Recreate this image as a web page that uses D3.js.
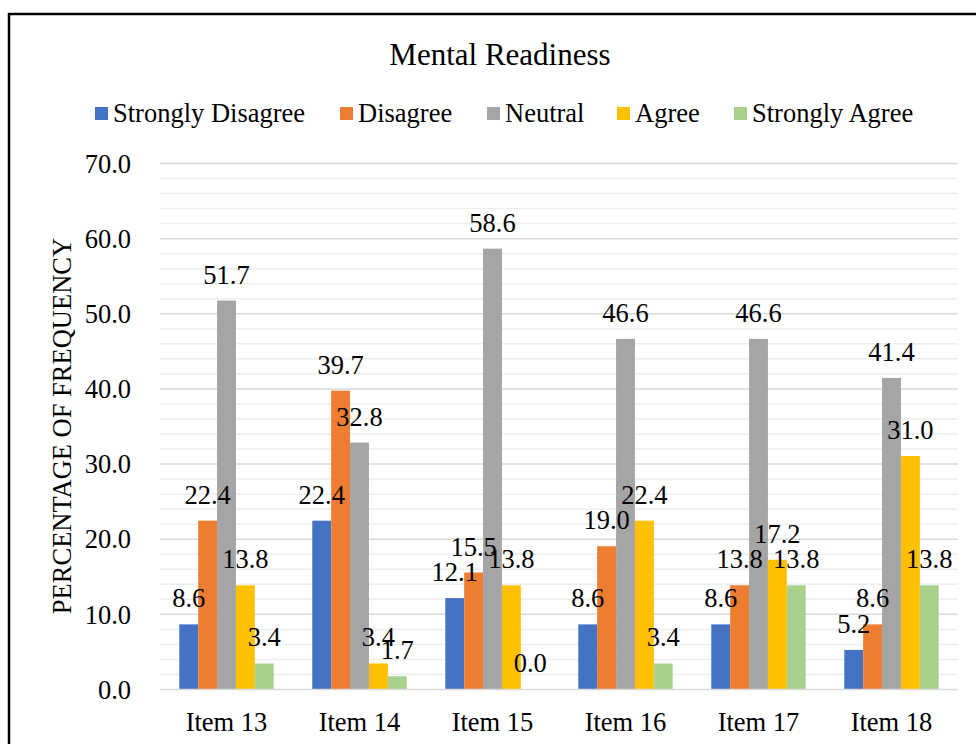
<!DOCTYPE html>
<html>
<head>
<meta charset="utf-8">
<script src="https://cdn.jsdelivr.net/npm/d3@7"></script>
<style>
  html, body { margin: 0; padding: 0; background: #fff; }
  svg { display: block; font-family: "Liberation Serif", "Times New Roman", serif; }
  svg text { font-family: "Liberation Serif", "Times New Roman", serif; }
</style>
</head>
<body>
<svg id="chart" width="976" height="744"></svg>
<script>
const categories = ["Item 13", "Item 14", "Item 15", "Item 16", "Item 17", "Item 18"];
const seriesNames = ["Strongly Disagree", "Disagree", "Neutral", "Agree", "Strongly Agree"];
const stronglyDisagree = [8.6, 22.4, 12.1, 8.6, 8.6, 5.2];
const disagree = [22.4, 39.7, 15.5, 19.0, 13.8, 8.6];
const neutral = [51.7, 32.8, 58.6, 46.6, 46.6, 41.4];
const agree = [13.8, 3.4, 13.8, 22.4, 17.2, 31.0];
const stronglyAgree = [3.4, 1.7, 0.0, 3.4, 13.8, 13.8];
const yTicks = [0, 10, 20, 30, 40, 50, 60, 70];
const colors = ["#4472C4", "#ED7D31", "#A5A5A5", "#FFC000", "#A9D18E"];

const seriesValues = [stronglyDisagree, disagree, neutral, agree, stronglyAgree];

const svg = d3.select("#chart");
const plot = { left: 160, right: 958, top: 163, bottom: 689 };
const FS = 26.5;

// chart border (extends beyond the visible frame)
svg.append("rect")
  .attr("x", 9).attr("y", 14)
  .attr("width", 1000).attr("height", 800)
  .attr("fill", "#fff").attr("stroke", "#000").attr("stroke-width", 2.5);

const x0 = d3.scaleBand().domain(categories).range([plot.left, plot.right]).paddingInner(0.29).paddingOuter(0.145);
const x1 = d3.scaleBand().domain(seriesNames).range([0, x0.bandwidth()]);
const y = d3.scaleLinear().domain([0, 70]).range([plot.bottom, plot.top]);

// minor gridlines
const minor = d3.range(0, 70.001, 2).filter(v => v % 10 !== 0);
svg.append("g").selectAll("line").data(minor).join("line")
  .attr("x1", plot.left).attr("x2", plot.right)
  .attr("y1", d => y(d) + 0.5).attr("y2", d => y(d) + 0.5)
  .attr("stroke", "#EEEEEE").attr("stroke-width", 1.5);

// major gridlines
svg.append("g").selectAll("line").data(yTicks.filter(v => v > 0)).join("line")
  .attr("x1", plot.left).attr("x2", plot.right)
  .attr("y1", d => y(d) + 0.5).attr("y2", d => y(d) + 0.5)
  .attr("stroke", "#D9D9D9").attr("stroke-width", 1.5);

// y axis labels
const yAxis = d3.axisLeft(y).tickValues(yTicks).tickFormat(d3.format(".1f")).tickSize(0).tickPadding(0);
const yg = svg.append("g").attr("transform", `translate(131,0)`).call(yAxis);
yg.attr("font-family", null).attr("font-size", null);
yg.select(".domain").remove();
yg.selectAll("text").attr("font-size", FS).attr("fill", "#000").attr("dy", "0.35em");

// bars
const groups = svg.append("g").selectAll("g").data(categories).join("g")
  .attr("transform", d => `translate(${x0(d)},0)`);

groups.selectAll("rect").data((c, i) => seriesNames.map((s, j) => ({ s, j, v: seriesValues[j][i] })))
  .join("rect")
  .attr("x", d => x1(d.s))
  .attr("width", x1.bandwidth())
  .attr("y", d => y(d.v))
  .attr("height", d => y(0) - y(d.v))
  .attr("fill", d => colors[d.j]);

// x axis line
svg.append("line")
  .attr("x1", plot.left).attr("x2", plot.right)
  .attr("y1", plot.bottom + 0.5).attr("y2", plot.bottom + 0.5)
  .attr("stroke", "#D9D9D9").attr("stroke-width", 1.5);

// data labels
groups.selectAll("text").data((c, i) => seriesNames.map((s, j) => ({ s, j, v: seriesValues[j][i] })))
  .join("text")
  .attr("x", d => x1(d.s) + x1.bandwidth() / 2)
  .attr("y", d => y(d.v) - 17)
  .attr("text-anchor", "middle")
  .attr("font-size", FS)
  .attr("fill", "#000")
  .text(d => d.v.toFixed(1));

// x labels
const xAxis = d3.axisBottom(x0).tickSize(0).tickPadding(0);
const xg = svg.append("g").attr("transform", `translate(0,${plot.bottom})`).call(xAxis);
xg.attr("font-family", null).attr("font-size", null);
xg.select(".domain").remove();
xg.selectAll("text").attr("font-size", FS).attr("fill", "#000")
  .attr("y", 42).attr("dy", 0);

// y axis title
svg.append("text")
  .attr("transform", `translate(62,${(plot.top + plot.bottom) / 2}) rotate(-90)`)
  .attr("text-anchor", "middle")
  .attr("dy", "0.35em")
  .attr("font-size", FS)
  .attr("fill", "#000")
  .text("PERCENTAGE OF FREQUENCY");

// title
svg.append("text")
  .attr("x", 500).attr("y", 65)
  .attr("text-anchor", "middle")
  .attr("font-size", 31)
  .attr("fill", "#000")
  .text("Mental Readiness");

// legend
const legendX = [95, 340, 487, 617, 734];
const lg = svg.append("g").selectAll("g").data(seriesNames).join("g")
  .attr("transform", (d, i) => `translate(${legendX[i]},122)`);
lg.append("rect").attr("x", 0).attr("y", -15).attr("width", 13).attr("height", 13)
  .attr("fill", (d, i) => colors[i]);
lg.append("text").attr("x", 18).attr("y", 0)
  .attr("font-size", FS).attr("fill", "#000").text(d => d);
</script>
</body>
</html>
